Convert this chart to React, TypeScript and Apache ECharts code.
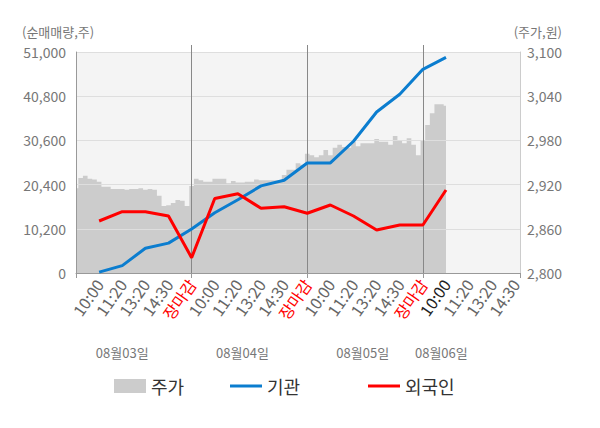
import React, { useEffect, useRef } from 'react';
import * as echarts from 'echarts';

// ---- data ----
const days = ['08월03일', '08월04일', '08월05일', '08월06일'];
const sessionLabels = ['10:00', '11:20', '13:20', '14:30', '장마감'];
const pointsPerDay = 25;
const totalPoints = 97;
const dateLabelIndex = [10, 36, 62, 79];

// 주가 (원) sampled along the axis
const priceDay1 = [2915, 2929, 2932, 2928, 2927, 2924, 2917, 2917, 2914, 2914, 2914, 2913, 2914, 2914, 2915, 2913, 2914, 2913, 2905, 2891, 2892, 2895, 2899, 2898, 2891];
const priceDay2 = [2918, 2928, 2926, 2924, 2924, 2928, 2928, 2928, 2922, 2925, 2923, 2923, 2924, 2924, 2927, 2926, 2926, 2926, 2926, 2926, 2933, 2940, 2940, 2949, 2947];
const priceDay3 = [2962, 2960, 2957, 2960, 2967, 2960, 2970, 2974, 2971, 2970, 2978, 2972, 2976, 2976, 2976, 2982, 2978, 2978, 2974, 2986, 2980, 2976, 2983, 2974, 2960];
const priceDay4 = [2980, 3001, 3017, 3029, 3029, 3027];

// 순매매량 (주) at each session label
const institution = [200, 1700, 5700, 6900, 10150, 13900, 16900, 20100, 21400, 25400, 25400, 30400, 37150, 41250, 47000, 49770];
const foreign = [12000, 14150, 14150, 13150, 3530, 17200, 18300, 14930, 15300, 13780, 15690, 13150, 9920, 11080, 11080, 19150];

const leftAxis = { min: 0, max: 51000, interval: 10200 };
const rightAxis = { min: 2800, max: 3100, interval: 60 };

const FONT = "'Noto Sans CJK KR', 'Noto Sans', sans-serif";
const BLUE = '#0b7dcf';
const RED = '#ff0000';

const categories = Array.from({ length: totalPoints }, (_, i) => {
  const d = Math.min(Math.floor(i / pointsPerDay), days.length - 1);
  return `${days[d]}-${i}`;
});
const price = [...priceDay1, ...priceDay2, ...priceDay3, ...priceDay4];
const isSessionIdx = (i: number) => i % 5 === 0 && i > 0 && i < totalPoints - 1;
const sessionText = (i: number) => sessionLabels[(i / 5 - 1) % 5];
const toPairs = (vals: number[]) => vals.map((v, k) => [5 * (k + 1), v]);

export default function App() {
  const ref = useRef<HTMLDivElement>(null);
  useEffect(() => {
    if (!ref.current) return;
    const chart = echarts.init(ref.current, null, { renderer: 'svg' });
    const fmt = (v: number) => v.toLocaleString('en-US');
    const legendBase = { top: 377, padding: 0, itemWidth: 32, selectedMode: false, textStyle: { fontSize: 18, color: '#333', fontFamily: FONT } };
    chart.setOption({
      animation: false,
      textStyle: { fontFamily: FONT },
      grid: [
        { left: 76, right: 80, top: 52, bottom: 155, show: true, backgroundColor: '#f4f4f4', borderWidth: 0 },
        { left: 76, right: 80, top: 45, bottom: 155, show: false },
      ],
      xAxis: [
        {
          type: 'category', gridIndex: 0, data: categories, boundaryGap: false, z: 4,
          axisLine: { lineStyle: { color: '#999', width: 1 } },
          axisTick: { show: true, length: 5, interval: (i: number) => i % pointsPerDay === 0 || i === totalPoints - 1, lineStyle: { color: '#999' } },
          axisLabel: {
            interval: (i: number) => isSessionIdx(i),
            rotate: 55, margin: 8, fontSize: 16, color: '#666', fontFamily: FONT,
            formatter: (_v: string, i: number) => {
              const t = sessionText(i);
              if (t === '장마감') return `{r|${t}}`;
              if (i === 80) return `{k|${t}}`;
              return `{n|${t}}`;
            },
            rich: {
              r: { color: RED, fontSize: 16, fontFamily: FONT },
              k: { color: '#222', fontSize: 16, fontFamily: FONT },
              n: { color: '#666', fontSize: 16, fontFamily: FONT },
            },
          },
          splitLine: { show: false },
        },
        {
          type: 'category', gridIndex: 0, data: categories, boundaryGap: false, position: 'bottom', offset: 65,
          axisLine: { show: false }, axisTick: { show: false }, splitLine: { show: false },
          axisLabel: {
            interval: (i: number) => dateLabelIndex.includes(i),
            formatter: (_v: string, i: number) => days[dateLabelIndex.indexOf(i)] ?? '',
            fontSize: 13, color: '#777', fontFamily: FONT,
          },
        },
        {
          type: 'category', gridIndex: 1, data: categories, boundaryGap: false, z: 3,
          axisLine: { show: false }, axisTick: { show: false }, axisLabel: { show: false },
          splitLine: { show: true, interval: (i: number) => i > 0 && i % pointsPerDay === 0 && i < totalPoints - 1, lineStyle: { color: '#888', width: 1 } },
        },
      ],
      yAxis: [
        {
          type: 'value', gridIndex: 0, position: 'left', ...leftAxis, z: 3,
          axisLine: { show: true, lineStyle: { color: '#999' } }, axisTick: { show: false },
          axisLabel: { fontSize: 14, color: '#777', margin: 10, fontFamily: FONT, formatter: fmt },
          splitLine: { show: true, lineStyle: { color: '#dedede' } },
        },
        {
          type: 'value', gridIndex: 0, position: 'right', ...rightAxis, z: 3,
          axisLine: { show: true, lineStyle: { color: '#ccc' } }, axisTick: { show: false },
          axisLabel: { fontSize: 14, color: '#777', margin: 7, fontFamily: FONT, formatter: fmt },
          splitLine: { show: false },
        },
        { type: 'value', gridIndex: 1, show: false },
      ],
      legend: [
        { ...legendBase, data: [{ name: '주가', icon: 'rect' }], left: 114, itemHeight: 14 },
        { ...legendBase, data: [{ name: '기관', icon: 'rect' }], left: 230, itemHeight: 3 },
        { ...legendBase, data: [{ name: '외국인', icon: 'rect' }], left: 368, itemHeight: 3 },
      ],
      graphic: [
        { type: 'text', left: 22, top: 25, style: { text: '(순매매량,주)', fontSize: 13, fill: '#777', fontFamily: FONT } },
        { type: 'text', right: 38, top: 25, style: { text: '(주가,원)', fontSize: 13, fill: '#777', fontFamily: FONT } },
      ],
      series: [
        {
          name: '주가', type: 'line', xAxisIndex: 0, yAxisIndex: 1, data: price, step: 'middle',
          symbol: 'none', lineStyle: { width: 0, color: '#cccccc' }, itemStyle: { color: '#cccccc' },
          areaStyle: { color: '#cccccc', opacity: 1 }, z: 1,
        },
        {
          name: '기관', type: 'line', xAxisIndex: 0, yAxisIndex: 0, data: toPairs(institution),
          symbol: 'none', lineStyle: { width: 3, color: BLUE }, itemStyle: { color: BLUE }, z: 5,
        },
        {
          name: '외국인', type: 'line', xAxisIndex: 0, yAxisIndex: 0, data: toPairs(foreign),
          symbol: 'none', lineStyle: { width: 3, color: RED }, itemStyle: { color: RED }, z: 5,
        },
      ],
    });
    return () => chart.dispose();
  }, []);
  return <div ref={ref} style={{ position: 'absolute', left: 0, top: 0, width: 600, height: 428 }} />;
}
